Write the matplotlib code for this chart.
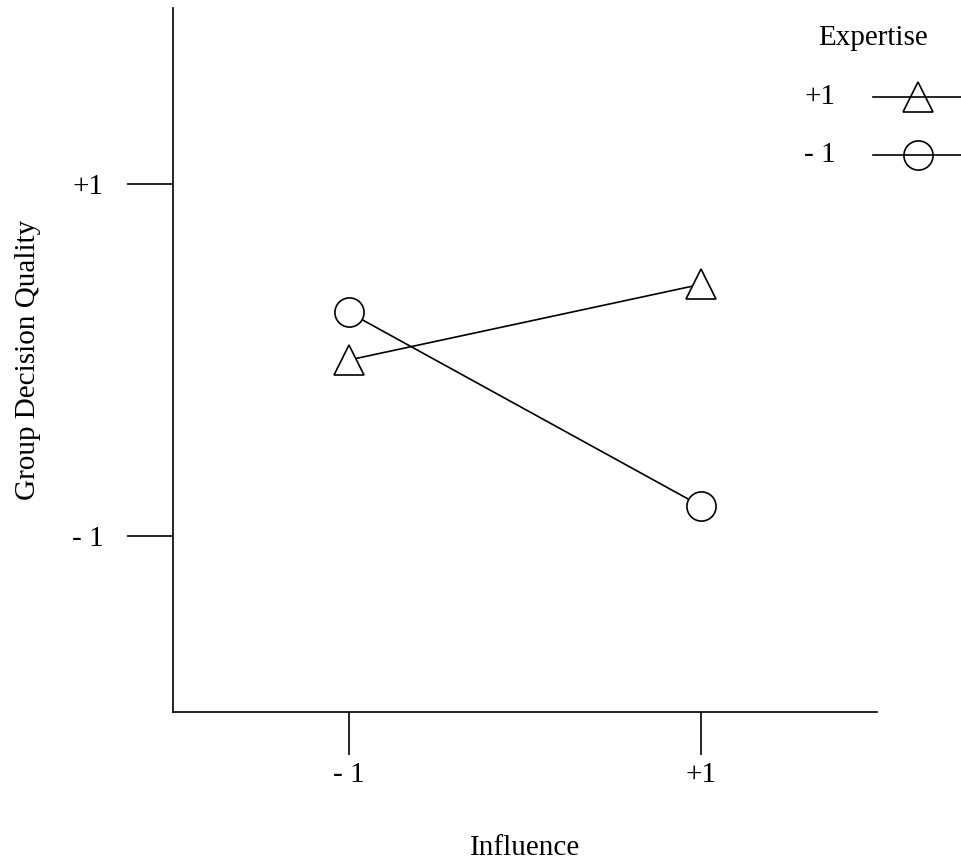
import matplotlib
matplotlib.use("Agg")
import matplotlib.pyplot as plt
from matplotlib.lines import Line2D

plt.rcParams["font.family"] = ["Liberation Serif", "DejaVu Serif"]

# data
influence = [-1, 1]
expertise_high = [0.0, 0.43]   # Expertise +1 (triangles)
expertise_low = [0.27, -0.83]  # Expertise -1 (circles)
tick_vals = [-1, 1]
tick_labels = ["- 1", "+1"]
legend_labels = ["+1", "- 1"]

FS = 21

fig = plt.figure(figsize=(9.61, 8.6), dpi=100)
ax = fig.add_axes([173 / 961, 1 - 712 / 860, (877 - 173) / 961, (712 - 8) / 860])

mk = dict(color="black", lw=1.2, markersize=21, markerfacecolor="white",
          markeredgecolor="black", markeredgewidth=1.2)
ax.plot(influence, expertise_high, marker="^", **mk)
ax.plot(influence, expertise_low, marker="o", **mk)

ax.set_xlim(-2, 2)
ax.set_ylim(-2, 2)
for s in ["top", "right"]:
    ax.spines[s].set_visible(False)
for s in ["left", "bottom"]:
    ax.spines[s].set_linewidth(1.2)

ax.set_xticks(tick_vals)
ax.set_xticklabels(tick_labels)
ax.set_yticks(tick_vals)
ax.set_yticklabels(tick_labels)
ax.tick_params(axis="x", direction="out", length=31, width=1.2, pad=5, labelsize=FS)
ax.tick_params(axis="y", direction="out", length=33, width=1.2, pad=17, labelsize=FS)

ax.set_xlabel("Influence", fontsize=FS)
ax.xaxis.set_label_coords(0.5, -0.175)
ax.set_ylabel("Group Decision Quality", fontsize=FS)
ax.yaxis.set_label_coords(-0.188, 0.5)

# legend drawn by hand, as in the original figure
fig.text(873 / 961, 1 - 38 / 860, "Expertise", fontsize=FS, ha="center", va="center")
leg_y = [97, 155]
for lab, m, y in zip(legend_labels, ["^", "o"], leg_y):
    fy = 1 - y / 860
    fig.text(820 / 961, fy, lab, fontsize=FS, ha="center", va="center")
    fig.add_artist(Line2D([873 / 961, 1.0], [fy, fy], color="black", lw=1.2,
                          transform=fig.transFigure))
    fig.add_artist(Line2D([918 / 961], [fy], marker=m, markersize=21,
                          markerfacecolor="none", markeredgecolor="black",
                          markeredgewidth=1.2, linestyle="none",
                          transform=fig.transFigure))

fig.savefig("out.png", dpi=100)
